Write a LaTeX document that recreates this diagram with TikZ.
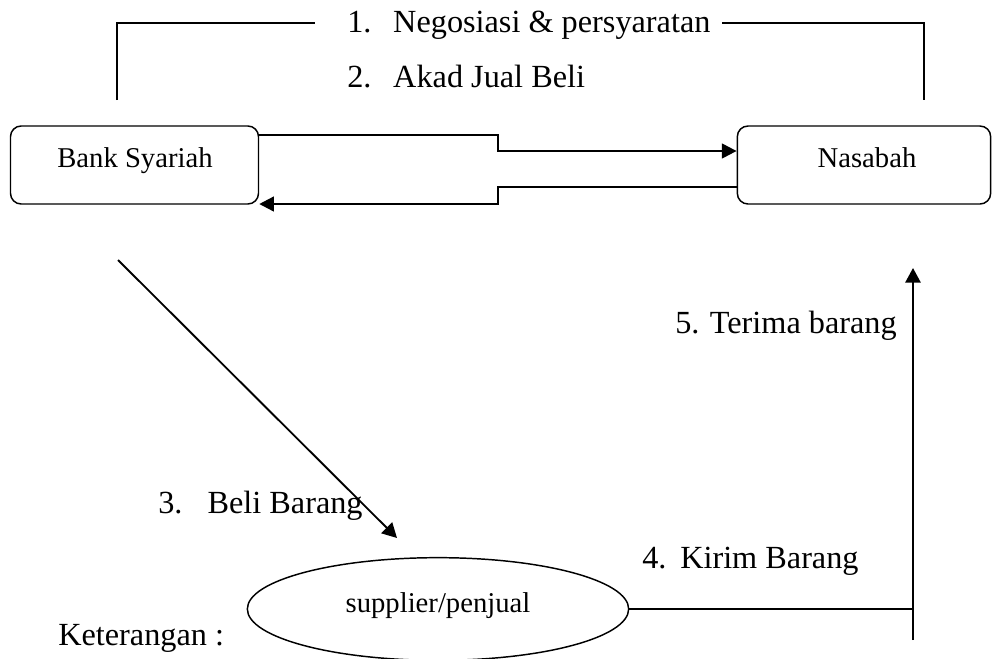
\documentclass[tikz,border=0pt]{standalone}
\usepackage{fontspec}
\setmainfont{Liberation Serif}
\usetikzlibrary{arrows.meta,shapes.geometric}
\begin{document}
\begin{tikzpicture}[x=0.75pt,y=-0.75pt,
  lbl/.style={font=\fontsize{24.2}{28}\selectfont,anchor=base west,inner sep=0pt},
  boxtxt/.style={font=\fontsize{21.5}{25}\selectfont,anchor=base,inner sep=0pt},
  rbox/.style={draw,line width=1.1pt,rounded corners=8pt,minimum width=186pt,minimum height=58.5pt,inner sep=0pt},
  thick arrow/.style={line width=1.7pt,-{Triangle[length=11pt,width=11pt]}},
  thin line/.style={line width=1.1pt},
  diag arrow/.style={line width=1.4pt,-{Triangle[length=11pt,width=11.5pt]}},
]
\useasboundingbox (0,0) rectangle (993,658);
% nodes
\node[rbox] (bank) at (134.5,165) {};
\node[boxtxt] (banktxt) at (135,167) {Bank Syariah};
\node[rbox,minimum width=190pt] (nas) at (864,165) {};
\node[boxtxt] (nastxt) at (867,167) {Nasabah};
\node[draw,ellipse,line width=1.1pt,minimum width=286pt,minimum height=77pt,inner sep=0pt] (sup) at (438,609) {};
\node[boxtxt] (suptxt) at (438,612) {supplier/penjual};
% labels
\node[lbl] (l1) at (347,32) {\makebox[34.5pt][l]{1.}Negosiasi \& persyaratan};
\node[lbl] (l2) at (347,87) {\makebox[34.5pt][l]{2.}Akad Jual Beli};
\node[lbl] (l3) at (158,513) {\makebox[37pt][l]{3.}Beli Barang};
\node[lbl] (l4) at (642,568) {\makebox[28.5pt][l]{4.}Kirim Barang};
\node[lbl] (l5) at (675,333) {\makebox[26pt][l]{5.}Terima barang};
\node[lbl] (ket) at (58,645) {Keterangan :};
% coordinates
\coordinate (tl) at (117,100);
\coordinate (tr) at (924,100);
\coordinate (d1) at (118,260);
\coordinate (d2) at (397,538);
\coordinate (vb) at (913,640);
\coordinate (vt) at (913,268);
% top bracket
\draw[thin line] (tl) -- (117,23) -- (315,23);
\draw[thin line] (722,23) -- (924,23) -- (tr);
% arrows between boxes
\draw[thick arrow] (bank.east |- 0,135) -- (498,135) -- (498,151) -- (nas.west |- 0,151);
\draw[thick arrow] (nas.west |- 0,187) -- (498,187) -- (498,204) -- (bank.east |- 0,204);
% diagonal
\draw[diag arrow] (d1) -- (d2);
% supplier to nasabah
\draw[thin line] (sup.east) -- (sup.east -| vb);
\draw[diag arrow] (vb) -- (vt);
\end{tikzpicture}
\end{document}
